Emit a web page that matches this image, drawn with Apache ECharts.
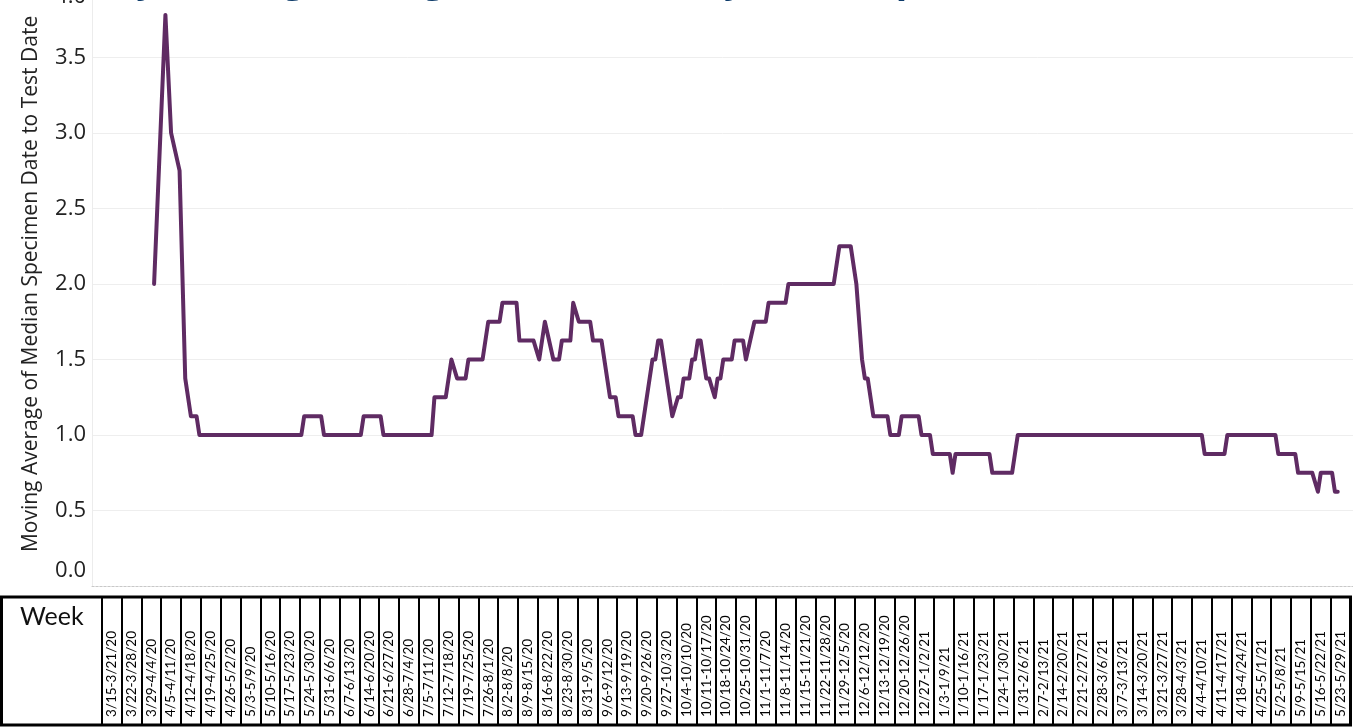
<!DOCTYPE html>
<html>
<head>
<meta charset="utf-8">
<script src="https://cdn.jsdelivr.net/npm/echarts@6/dist/echarts.min.js"></script>
<style>
  html, body { margin: 0; padding: 0; background: #fff; }
  #chart { width: 1353px; height: 728px; }
</style>
</head>
<body>
<div id="chart"></div>
<script>
// ---- Data (vertices of the daily moving-average line) ----
const dates = [
  '2020-04-02','2020-04-06','2020-04-08','2020-04-11','2020-04-13','2020-04-15','2020-04-17','2020-04-18',
  '2020-05-24','2020-05-25','2020-05-31','2020-06-01','2020-06-14','2020-06-15','2020-06-21','2020-06-22',
  '2020-07-09','2020-07-10','2020-07-14','2020-07-16','2020-07-18','2020-07-21','2020-07-22','2020-07-27',
  '2020-07-29','2020-08-02','2020-08-03','2020-08-08','2020-08-09','2020-08-14','2020-08-16','2020-08-18',
  '2020-08-21','2020-08-23','2020-08-24','2020-08-27','2020-08-28','2020-08-30','2020-09-03','2020-09-04',
  '2020-09-07','2020-09-10','2020-09-12','2020-09-13','2020-09-18','2020-09-19','2020-09-21','2020-09-25',
  '2020-09-26','2020-09-27','2020-09-28','2020-10-02','2020-10-04','2020-10-05','2020-10-06','2020-10-08',
  '2020-10-09','2020-10-10','2020-10-11','2020-10-12','2020-10-14','2020-10-15','2020-10-17','2020-10-18',
  '2020-10-19','2020-10-20','2020-10-23','2020-10-24','2020-10-27','2020-10-28','2020-10-31','2020-11-04',
  '2020-11-05','2020-11-11','2020-11-12','2020-11-28','2020-11-30','2020-12-04','2020-12-06','2020-12-08',
  '2020-12-09','2020-12-10','2020-12-12','2020-12-17','2020-12-18','2020-12-21','2020-12-22','2020-12-28',
  '2020-12-29','2021-01-01','2021-01-02','2021-01-08','2021-01-09','2021-01-10','2021-01-22','2021-01-23',
  '2021-01-30','2021-02-01','2021-04-07','2021-04-08','2021-04-15','2021-04-16','2021-05-03','2021-05-04',
  '2021-05-10','2021-05-11','2021-05-16','2021-05-18','2021-05-19','2021-05-23','2021-05-24','2021-05-25'
];
const values = [
  2.0, 3.78, 3.0, 2.75, 1.375, 1.125, 1.125, 1.0,
  1.0, 1.125, 1.125, 1.0, 1.0, 1.125, 1.125, 1.0,
  1.0, 1.25, 1.25, 1.5, 1.375, 1.375, 1.5, 1.5,
  1.75, 1.75, 1.875, 1.875, 1.625, 1.625, 1.5, 1.75,
  1.5, 1.5, 1.625, 1.625, 1.875, 1.75, 1.75, 1.625,
  1.625, 1.25, 1.25, 1.125, 1.125, 1.0, 1.0, 1.5,
  1.5, 1.625, 1.625, 1.125, 1.25, 1.25, 1.375, 1.375,
  1.5, 1.5, 1.625, 1.625, 1.375, 1.375, 1.25, 1.375,
  1.375, 1.5, 1.5, 1.625, 1.625, 1.5, 1.75, 1.75,
  1.875, 1.875, 2.0, 2.0, 2.25, 2.25, 2.0, 1.5,
  1.375, 1.375, 1.125, 1.125, 1.0, 1.0, 1.125, 1.125,
  1.0, 1.0, 0.875, 0.875, 0.75, 0.875, 0.875, 0.75,
  0.75, 1.0, 1.0, 0.875, 0.875, 1.0, 1.0, 0.875,
  0.875, 0.75, 0.75, 0.625, 0.75, 0.75, 0.625, 0.625
];
const weekLabels = [
  '3/15-3/21/20','3/22-3/28/20','3/29-4/4/20','4/5-4/11/20','4/12-4/18/20','4/19-4/25/20','4/26-5/2/20',
  '5/3-5/9/20','5/10-5/16/20','5/17-5/23/20','5/24-5/30/20','5/31-6/6/20','6/7-6/13/20','6/14-6/20/20',
  '6/21-6/27/20','6/28-7/4/20','7/5-7/11/20','7/12-7/18/20','7/19-7/25/20','7/26-8/1/20','8/2-8/8/20',
  '8/9-8/15/20','8/16-8/22/20','8/23-8/30/20','8/31-9/5/20','9/6-9/12/20','9/13-9/19/20','9/20-9/26/20',
  '9/27-10/3/20','10/4-10/10/20','10/11-10/17/20','10/18-10/24/20','10/25-10/31/20','11/1-11/7/20',
  '11/8-11/14/20','11/15-11/21/20','11/22-11/28/20','11/29-12/5/20','12/6-12/12/20','12/13-12/19/20',
  '12/20-12/26/20','12/27-1/2/21','1/3-1/9/21','1/10-1/16/21','1/17-1/23/21','1/24-1/30/21','1/31-2/6/21',
  '2/7-2/13/21','2/14-2/20/21','2/21-2/27/21','2/28-3/6/21','3/7-3/13/21','3/14-3/20/21','3/21-3/27/21',
  '3/28-4/3/21','4/4-4/10/21','4/11-4/17/21','4/18-4/24/21','4/25-5/1/21','5/2-5/8/21','5/9-5/15/21',
  '5/16-5/22/21','5/23-5/29/21'
];
const yTicks = [0, 4, 0.5]; // min, max, interval
const titleText = 'Daily Moving Average of Median Days from Specimen Date to Test Date';
const yName = 'Moving Average of Median Specimen Date to Test Date';
const rangeStart = '2020-03-15';
const rangeEnd = '2021-05-30';

// ---- Build ----
const DAY = 86400000;
function ts(s) { const p = s.split('-').map(Number); return Date.UTC(p[0], p[1] - 1, p[2]); }
const PLOT_LEFT = 92, WEEK_LEFT = 101.7, WEEK_RIGHT = 1350.5, WIDTH = 1353;
const t0 = ts(rangeStart), t1 = ts(rangeEnd);
const nDays = (t1 - t0) / DAY;
const dayPx = (WEEK_RIGHT - WEEK_LEFT) / nDays;
const xMin = t0 - (WEEK_LEFT - PLOT_LEFT) / dayPx * DAY;
const xMax = t1 + (WIDTH - WEEK_RIGHT) / dayPx * DAY;
const lineData = dates.map((d, i) => [ts(d) + DAY / 2, values[i]]);

const chart = echarts.init(document.getElementById('chart'), null, { renderer: 'canvas' });
chart.setOption({
  animation: false,
  backgroundColor: '#ffffff',
  title: {
    text: titleText,
    left: 58,
    top: -42.5,
    textStyle: { fontFamily: 'Open Sans', fontWeight: 'bold', fontSize: 37.5, lineHeight: 37.5, color: '#0c3a69' }
  },
  grid: [
    { left: PLOT_LEFT, right: 0, top: -18.3, bottom: 728 - 586.2, containLabel: false, outerBoundsMode: 'none' },
    { left: WEEK_LEFT, right: WIDTH - WEEK_RIGHT, top: 597, bottom: 2, containLabel: false, outerBoundsMode: 'none' }
  ],
  xAxis: [
    {
      type: 'time', gridIndex: 0, min: xMin, max: xMax,
      axisLine: { show: true, lineStyle: { color: '#c8c8c8', type: [2, 2], width: 1 } },
      axisTick: { show: false }, axisLabel: { show: false }, splitLine: { show: false }
    },
    {
      type: 'category', gridIndex: 1, data: weekLabels, boundaryGap: true,
      axisLine: { show: false }, axisTick: { show: false },
      axisLabel: {
        inside: true, rotate: 90, margin: 9, interval: 0,
        fontFamily: 'Lato', fontSize: 13.5, color: '#000',
        padding: [0, 0, 7, 0]
      },
      splitLine: { show: true, interval: 0, lineStyle: { color: '#000', width: 2 } }
    }
  ],
  yAxis: [
    {
      type: 'value', gridIndex: 0, min: yTicks[0], max: yTicks[1], interval: yTicks[2],
      name: yName, nameLocation: 'middle', nameGap: 50, nameRotate: 90,
      nameTextStyle: { fontFamily: 'Open Sans', fontSize: 21, color: '#222' },
      axisLine: { show: true, lineStyle: { color: '#ececec', width: 1 } },
      axisTick: { show: false },
      axisLabel: {
        formatter: v => v.toFixed(1), margin: 6, showMaxLabel: true, showMinLabel: true,
        fontFamily: 'Open Sans', fontSize: 22, color: '#222',
        padding: [4, 0, 4, 0],
        verticalAlignMinLabel: 'bottom', verticalAlignMaxLabel: 'top'
      },
      splitLine: { show: true, lineStyle: { color: '#eeeeee', width: 1 } }
    },
    {
      type: 'value', gridIndex: 1, show: false, min: 0, max: 1
    }
  ],
  graphic: [
    { type: 'rect', shape: { x: 1.5, y: 597, width: 1349, height: 128 },
      style: { fill: 'none', stroke: '#000', lineWidth: 3 }, z: 100 },
    { type: 'text', left: 20, top: 604,
      style: { text: 'Week', fontFamily: 'Lato', fontSize: 25, fill: '#111' } }
  ],
  series: [
    {
      type: 'line', xAxisIndex: 0, yAxisIndex: 0, data: lineData,
      showSymbol: false, symbol: 'none',
      lineStyle: { color: '#5f2b63', width: 4, join: 'round', cap: 'round' },
      z: 5
    }
  ]
});
</script>
</body>
</html>
